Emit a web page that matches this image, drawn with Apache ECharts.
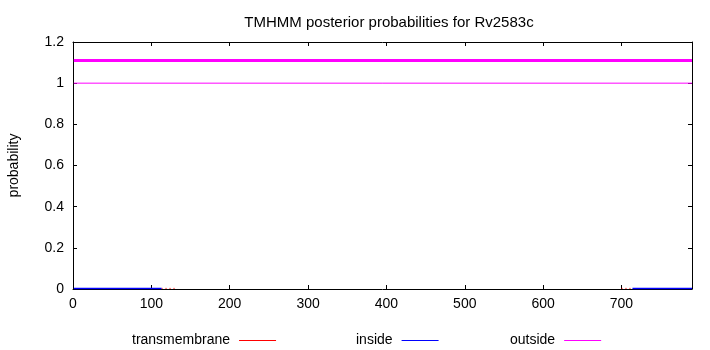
<!DOCTYPE html>
<html>
<head>
<meta charset="utf-8">
<script src="https://cdn.jsdelivr.net/npm/echarts@6/dist/echarts.min.js"></script>
<style>html,body{margin:0;padding:0;background:#fff}#c{width:710px;height:350px}</style>
</head>
<body>
<div id="c"></div>
<script>
// Data
const titleText = 'TMHMM posterior probabilities for Rv2583c';
const seqLength = 790;
const xTicks = [0, 100, 200, 300, 400, 500, 600, 700];
const yTicks = [0, 0.2, 0.4, 0.6, 0.8, 1, 1.2];

// topology band (outside along whole sequence)
const bandX = [1, 790];
const bandY = [1.11, 1.11];

// posterior probabilities
const outsideX = [1, 790];
const outsideY = [1, 1];
const insideX = [1, 113, 114, 714, 790];
const insideY = [0.002, 0.002, null, 0.002, 0.002];
const tmX = [113, 131, 132, 700, 713];
const tmY = [0.003, 0.003, null, 0.003, 0.003];

const pts = (xs, ys) => xs.map((x, i) => [x, ys[i] === null ? '-' : ys[i]]);

const FONT = 'Liberation Sans';
const chart = echarts.init(document.getElementById('c'), null, {renderer: 'canvas'});
const axisCommon = {
  axisLine: {show: true, onZero: false, lineStyle: {color: '#000', width: 1}},
  axisTick: {show: true, inside: true, length: 4, lineStyle: {color: '#000'}},
  splitLine: {show: false}
};
const legendCommon = {
  orient: 'horizontal', align: 'right', icon: 'rect', itemWidth: 37, itemHeight: 1,
  top: 333.5, padding: 0, selectedMode: false,
  textStyle: {fontFamily: FONT, fontSize: 14, color: '#000', padding: [0, 4, 0, 0]}
};
chart.setOption({
  animation: false,
  backgroundColor: '#fff',
  title: {
    text: titleText, left: 384, textAlign: 'center', top: 10,
    textStyle: {fontFamily: FONT, fontSize: 15, fontWeight: 'normal', color: '#000'}
  },
  legend: [
    Object.assign({}, legendCommon, {left: 132, data: ['transmembrane']}),
    Object.assign({}, legendCommon, {left: 356, data: ['inside']}),
    Object.assign({}, legendCommon, {left: 510, data: ['outside']})
  ],
  grid: {left: 73, right: 18, top: 42, bottom: 61, containLabel: false, outerBoundsMode: 'none'},
  xAxis: [
    Object.assign({}, axisCommon, {
      type: 'value', position: 'bottom', min: 0, max: seqLength, interval: 100,
      axisLabel: {show: true, margin: 8, fontFamily: FONT, fontSize: 14, color: '#000',
        showMaxLabel: false, formatter: v => xTicks.includes(v) ? String(v) : ''}
    }),
    Object.assign({}, axisCommon, {
      type: 'value', position: 'top', min: 0, max: seqLength, interval: 100,
      axisLabel: {show: false}
    })
  ],
  yAxis: [
    Object.assign({}, axisCommon, {
      type: 'value', position: 'left', min: 0, max: 1.2, interval: 0.2,
      name: 'probability', nameLocation: 'middle', nameGap: 52, nameRotate: 90,
      nameTextStyle: {fontFamily: FONT, fontSize: 14, color: '#000'},
      axisLabel: {show: true, margin: 9, fontFamily: FONT, fontSize: 14, color: '#000',
        formatter: v => { const t = yTicks.find(k => Math.abs(k - v) < 1e-9); return t === undefined ? '' : String(t); }}
    }),
    Object.assign({}, axisCommon, {
      type: 'value', position: 'right', min: 0, max: 1.2, interval: 0.2,
      axisLabel: {show: false}
    })
  ],
  series: [
    {name: 'band', type: 'line', data: pts(bandX, bandY), showSymbol: false, silent: true,
      lineStyle: {color: '#ff00ff', width: 3}, itemStyle: {color: '#ff00ff'}, z: 3},
    {name: 'outside', type: 'line', data: pts(outsideX, outsideY), showSymbol: false,
      lineStyle: {color: '#ff00ff', width: 1}, itemStyle: {color: '#ff00ff'}, z: 3},
    {name: 'transmembrane', type: 'line', data: pts(tmX, tmY), showSymbol: false, connectNulls: false,
      lineStyle: {color: '#ff0000', width: 1, type: [1, 3]}, itemStyle: {color: '#ff0000'}, z: 4},
    {name: 'inside', type: 'line', data: pts(insideX, insideY), showSymbol: false, connectNulls: false,
      lineStyle: {color: '#0000ff', width: 1.5}, itemStyle: {color: '#0000ff'}, z: 5}
  ]
});
</script>
</body>
</html>
